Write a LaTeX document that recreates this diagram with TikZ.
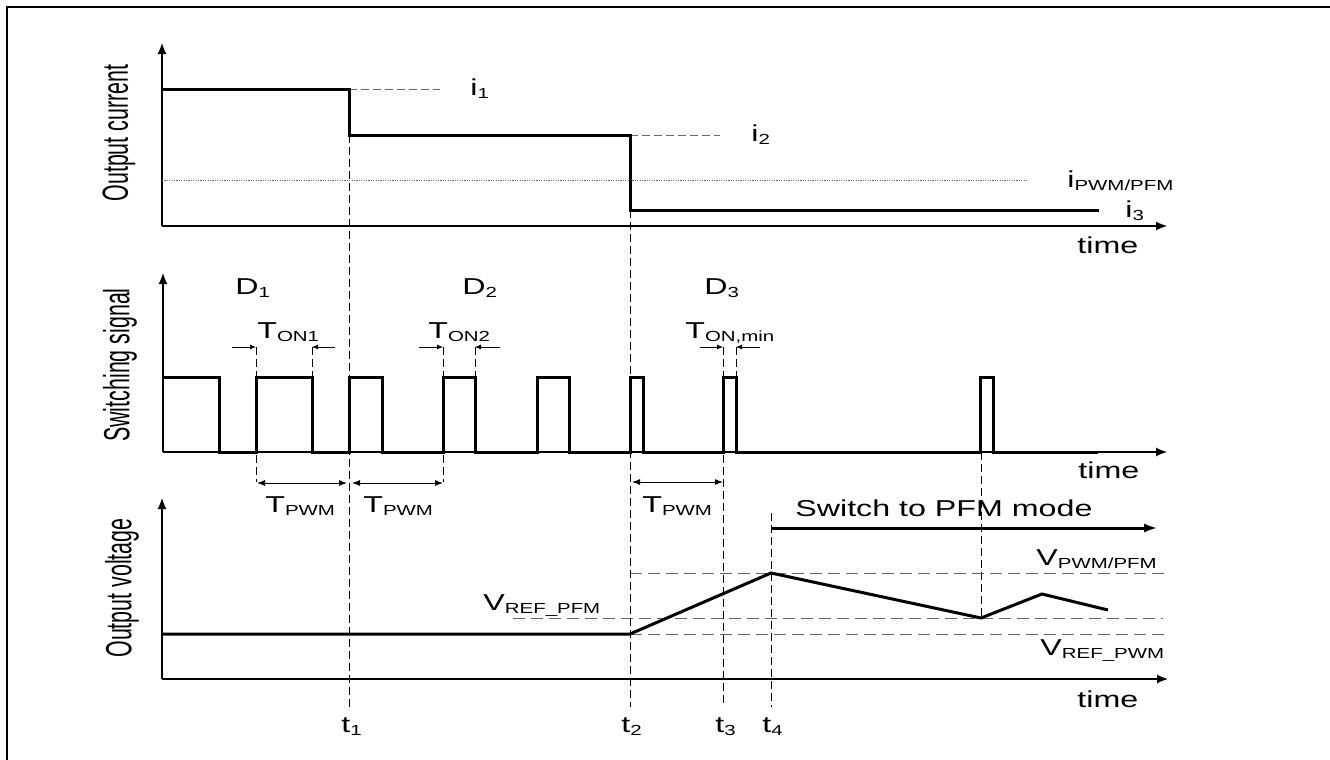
\documentclass[tikz,border=0pt]{standalone}
\usepackage{fontspec}
\setmainfont{Liberation Sans}[FakeStretch=1.4]
\newfontfamily\narrowsans{Liberation Sans}
\usetikzlibrary{arrows.meta}
\newcommand\sbx[1]{\raisebox{-1.7pt}{\fontsize{7.3pt}{7.3pt}\selectfont #1}}
\begin{document}
\begin{tikzpicture}[x=0.5pt,y=-0.5pt,
  lbl/.style={anchor=base west,inner sep=0pt,font=\fontsize{11.5pt}{12pt}\selectfont},
  ax/.style={line width=0.6pt,-{Latex[length=5.5pt,width=4.5pt]}},
  sig/.style={line width=1.5pt,line join=miter},
  vguide/.style={dash pattern=on 4pt off 2pt,line width=0.5pt},
  hguide/.style={black!60,dash pattern=on 6pt off 3pt,line width=0.5pt},
  iguide/.style={black!60,dash pattern=on 4pt off 2pt,line width=0.5pt},
  dotline/.style={black!60,dash pattern=on 0.6pt off 0.6pt,line width=0.4pt},
  tonarrow/.style={line width=0.4pt,-{Latex[length=3pt,width=2.5pt]}},
  pwmarrow/.style={line width=0.5pt,{Latex[length=4pt,width=3pt]}-{Latex[length=4pt,width=3pt]}},
  ylbl/.style={inner sep=0pt,font=\narrowsans\fontsize{10.7pt}{11pt}\selectfont}]
\useasboundingbox (0,0) rectangle (1330,760);
% frame
\draw[line width=1pt] (7,760) -- (7,7) -- (1330,7);

% ---------- top panel: output current ----------
\coordinate (o1) at (162,226);
\draw[ax] (o1) -- (162,43);
\draw[ax] (o1) -- (1167,226);
\draw[dotline] (162,180) -- (1027,180);
\draw[iguide] (349,89) -- (440,89);
\draw[iguide] (630,135) -- (720,135);
\draw[sig] (162,89) -- (349,89) -- (349,135) -- (630,135) -- (630,210) -- (1099,210);
\node[lbl] (i1) at (470,95) {i\sbx{1}};
\node[lbl] (i2) at (751,141) {i\sbx{2}};
\node[lbl] (ipf) at (1067,187) {i\sbx{PWM/PFM}};
\node[lbl] (i3) at (1125,217) {i\sbx{3}};
\node[lbl] (time1) at (1077,253) {time};
\node[ylbl] (yl1) at (119,133) {\rotatebox{90}{\scalebox{1}[1.7]{Output current}}};

% ---------- middle panel: switching signal ----------
\coordinate (o2) at (163,452);
\draw[ax] (o2) -- (163,273);
\draw[ax] (o2) -- (1167,452);
\draw[sig] (163,377) -- (219,377) -- (219,452) -- (256,452) -- (256,377) -- (312,377) -- (312,452)
  -- (349,452) -- (349,377) -- (382,377) -- (382,452) -- (443,452) -- (443,377) -- (475,377)
  -- (475,452) -- (537,452) -- (537,377) -- (569,377) -- (569,452) -- (630,452) -- (630,377)
  -- (643,377) -- (643,452) -- (723,452) -- (723,377) -- (736,377) -- (736,452) -- (980,452)
  -- (980,377) -- (993,377) -- (993,452) -- (1098,452);
\draw[vguide] (256,347) -- (256,482);
\draw[vguide] (312,347) -- (312,377);
\draw[vguide] (443,347) -- (443,482);
\draw[vguide] (475,347) -- (475,377);
\draw[vguide] (736,347) -- (736,377);
\draw[vguide] (981,452) -- (981,618);
\draw[tonarrow] (232,347) -- (256,347);
\draw[tonarrow] (335,347) -- (312,347);
\draw[tonarrow] (419,347) -- (443,347);
\draw[tonarrow] (500,347) -- (475,347);
\draw[tonarrow] (700,347) -- (723,347);
\draw[tonarrow] (760,347) -- (736,347);
\draw[pwmarrow] (257,483) -- (347,483);
\draw[pwmarrow] (352,483) -- (443,483);
\draw[pwmarrow] (632,482) -- (723,482);
\node[lbl] (d1) at (235,294) {D\sbx{1}};
\node[lbl] (d2) at (462,294) {D\sbx{2}};
\node[lbl] (d3) at (704,294) {D\sbx{3}};
\node[lbl] (ton1) at (257,338) {T\sbx{ON1}};
\node[lbl] (ton2) at (428,338) {T\sbx{ON2}};
\node[lbl] (tonm) at (685,338) {T\sbx{ON,min}};
\node[lbl] (tp1) at (265,512) {T\sbx{PWM}};
\node[lbl] (tp2) at (363,512) {T\sbx{PWM}};
\node[lbl] (tp3) at (642,512) {T\sbx{PWM}};
\node[lbl] (time2) at (1078,478) {time};
\node[ylbl] (yl2) at (120,365) {\rotatebox{90}{\scalebox{1}[1.7]{Switching signal}}};

% ---------- bottom panel: output voltage ----------
\coordinate (o3) at (162,679);
\draw[ax] (o3) -- (162,498);
\draw[ax] (o3) -- (1168,679);
\draw[hguide] (630,573) -- (1167,573);
\draw[hguide] (513,618) -- (1163,618);
\draw[hguide] (630,634) -- (1168,634);
\draw[sig] (162,634) -- (630,634) -- (771,573) -- (981,618) -- (1042,594) -- (1108,610);
\draw[line width=1.5pt,-{Latex[length=7pt,width=4.5pt]}] (771,528) -- (1158,528);
\node[lbl] (sw) at (795,516) {Switch to PFM mode};
\node[lbl] (vpf) at (1036,565) {V\sbx{PWM/PFM}};
\node[lbl] (vrpfm) at (483,610) {V\sbx{REF\_PFM}};
\node[lbl] (vrpwm) at (1040,655) {V\sbx{REF\_PWM}};
\node[lbl] (time3) at (1077,707) {time};
\node[ylbl] (yl3) at (122,588) {\rotatebox{90}{\scalebox{1}[1.7]{Output voltage}}};

% ---------- time markers ----------
\draw[vguide] (349,135) -- (349,707);
\draw[vguide] (630,210) -- (630,707);
\draw[vguide] (723,347) -- (723,707);
\draw[vguide] (771,513) -- (771,707);
\node[lbl] (t1) at (341,732) {t\sbx{1}};
\node[lbl] (t2) at (621,732) {t\sbx{2}};
\node[lbl] (t3) at (715,732) {t\sbx{3}};
\node[lbl] (t4) at (762,732) {t\sbx{4}};
\end{tikzpicture}
\end{document}
